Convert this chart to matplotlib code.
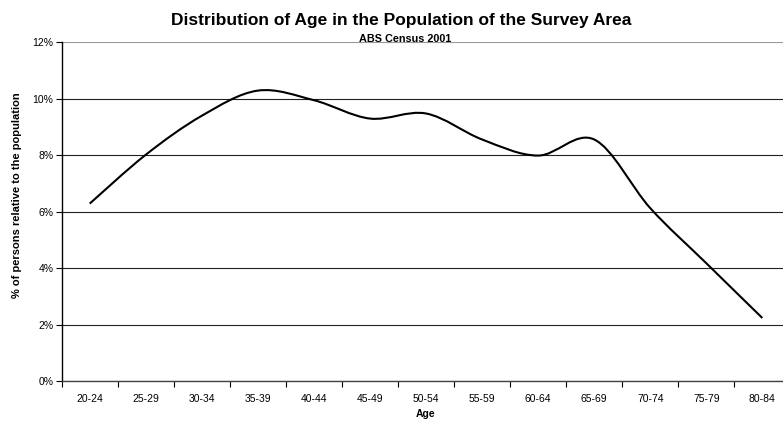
import numpy as np
import matplotlib.pyplot as plt
from matplotlib.path import Path
from matplotlib.patches import PathPatch
from matplotlib.ticker import FuncFormatter

plt.rcParams['font.family'] = ['Liberation Sans', 'DejaVu Sans']

age_groups = ['20-24', '25-29', '30-34', '35-39', '40-44', '45-49', '50-54',
              '55-59', '60-64', '65-69', '70-74', '75-79', '80-84']
pct_persons = [6.28, 8.01, 9.39, 10.28, 9.94, 9.29, 9.47,
               8.55, 7.98, 8.55, 6.12, 4.17, 2.23]


def smooth_path(xs, ys):
    """Excel-style smoothed line: cubic Bezier through each point."""
    pts = np.column_stack([xs, ys]).astype(float)
    n = len(pts)
    verts = [pts[0]]
    codes = [Path.MOVETO]
    for i in range(n - 1):
        p0 = pts[max(i - 1, 0)]
        p1 = pts[i]
        p2 = pts[i + 1]
        p3 = pts[min(i + 2, n - 1)]
        c1 = p1 + (p2 - p0) / 6.0
        c2 = p2 - (p3 - p1) / 6.0
        verts += [c1, c2, p2]
        codes += [Path.CURVE4] * 3
    return Path(verts, codes)


fig = plt.figure(figsize=(7.83, 4.21), dpi=100)
ax = fig.add_axes([0.0788, 0.095, 0.9306, 0.8052])

x = np.arange(len(age_groups))
ax.add_patch(PathPatch(smooth_path(x, pct_persons), facecolor='none',
                       edgecolor='black', linewidth=1.5, capstyle='butt'))

ax.set_xlim(-0.5, len(age_groups) - 0.5)
ax.set_ylim(0, 12)

ax.set_yticks(np.arange(0, 13, 2))
ax.yaxis.set_major_formatter(FuncFormatter(lambda v, p: f'{v:.0f}%'))
ax.grid(axis='y', color='#222222', linewidth=0.8)
ax.set_axisbelow(True)
# top gridline sits on the plot border and looks lighter
ax.get_ygridlines()[-1].set_color('#999999')

ax.set_xticks(x)
ax.set_xticklabels(age_groups)
ax.set_xticks(np.arange(-0.5, len(age_groups)), minor=True)
ax.tick_params(axis='x', which='major', length=0, pad=9, labelsize=7.5)
ax.tick_params(axis='x', which='minor', length=4, width=0.8, direction='out')
ax.tick_params(axis='y', length=4, width=0.8, labelsize=7.5, pad=2)

for side in ['top', 'right']:
    ax.spines[side].set_visible(False)
ax.spines['left'].set_linewidth(1.0)
ax.spines['bottom'].set_linewidth(1.0)
ax.spines['bottom'].set_color('#444444')

fig.text(0.512, 0.952, 'Distribution of Age in the Population of the Survey Area',
         ha='center', va='center', fontsize=12.5, fontweight='bold')
fig.text(0.517, 0.907, 'ABS Census 2001', ha='center', va='center',
         fontsize=7.8, fontweight='bold')
fig.text(0.544, 0.017, 'Age', ha='center', va='center', fontsize=7.5,
         fontweight='bold')
fig.text(0.022, 0.537, '% of persons relative to the population', ha='center',
         va='center', rotation=90, fontsize=8, fontweight='bold')

fig.savefig('out.png', dpi=100)
